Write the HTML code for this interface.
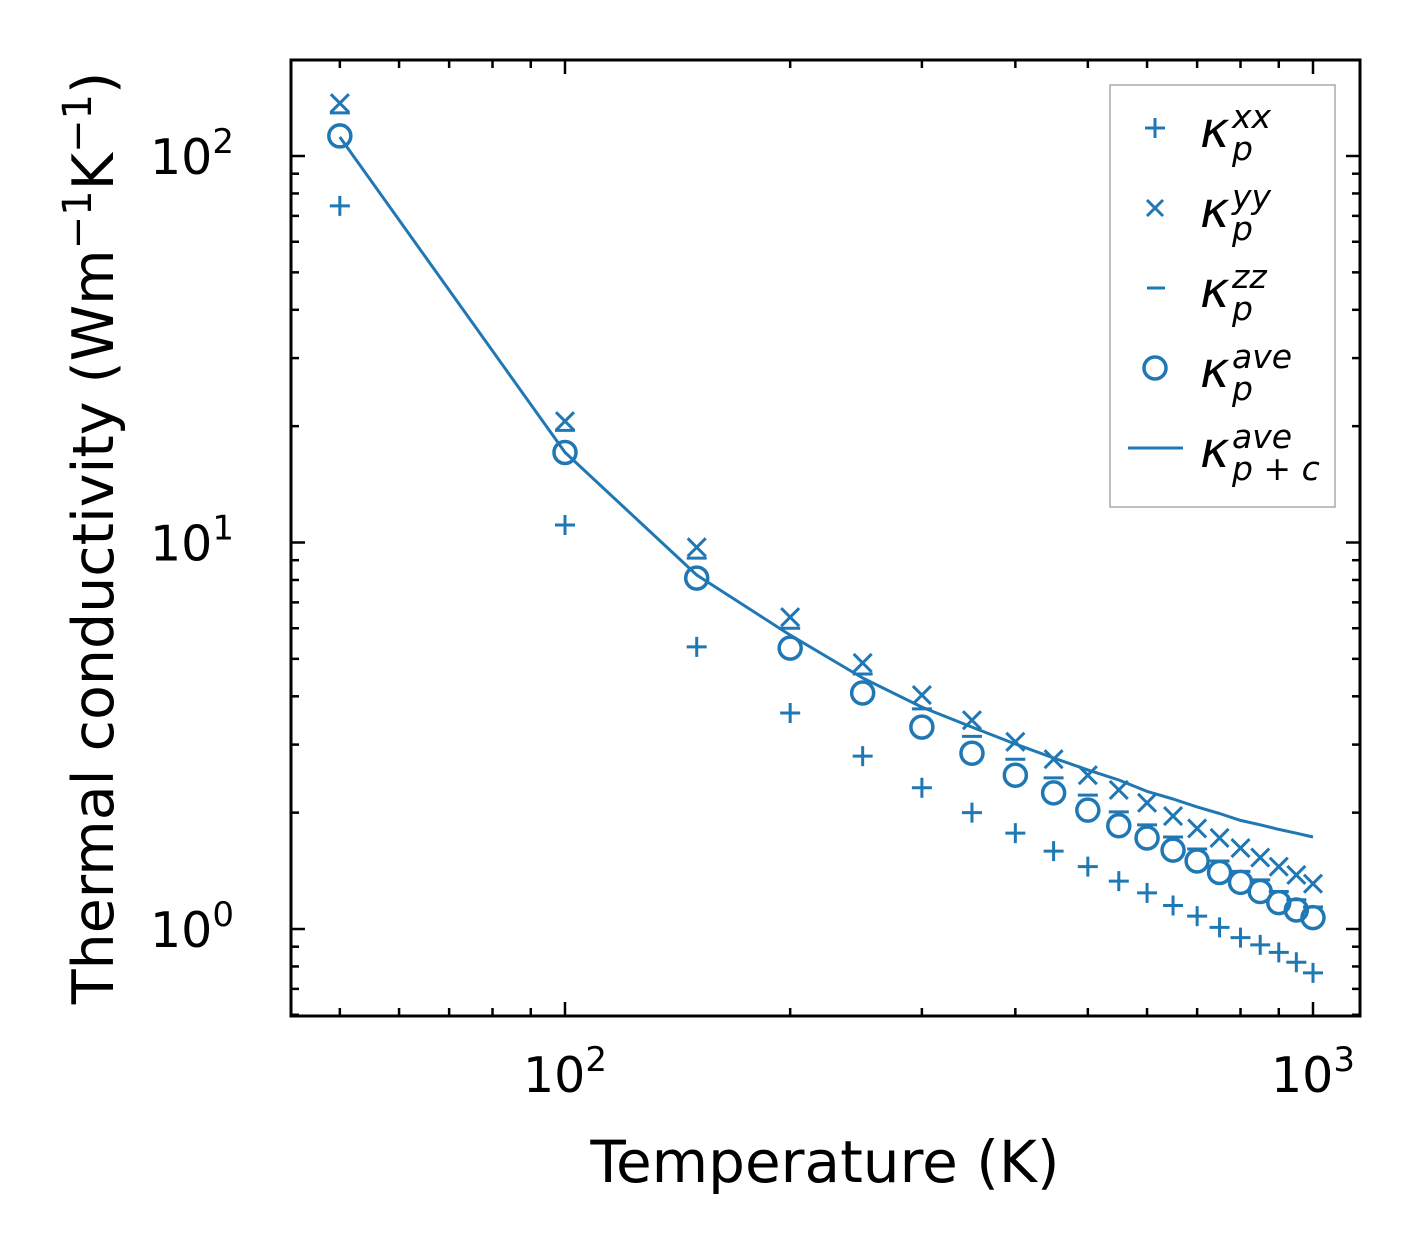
<!DOCTYPE html>
<html><head><meta charset="utf-8"><style>
html,body{margin:0;padding:0;background:#fff;}
svg{display:block;font-family:"DejaVu Sans","Liberation Sans",sans-serif;}
</style></head><body>
<svg id="chart" width="1421" height="1254" viewBox="0 0 1421 1254" xmlns="http://www.w3.org/2000/svg">
<rect x="0" y="0" width="1421" height="1254" fill="#fff"/>
<g id="marks"></g>
<g id="axes"></g>
<rect x="291" y="60" width="1069" height="956" fill="none" stroke="#000" stroke-width="3"/>
<text x="825" y="1182" font-size="58" text-anchor="middle">Temperature (K)</text>
<text transform="translate(113,538) rotate(-90)" font-size="57" text-anchor="middle">Thermal conductivity (Wm<tspan dy="-22" font-size="40">−1</tspan><tspan dy="22">K</tspan><tspan dy="-22" font-size="40">−1</tspan><tspan dy="22">)</tspan></text>
<g>
<rect x="1110" y="85" width="225" height="422" fill="#fff" stroke="#aaa" stroke-width="1.5"/>
<g>
<path d="M1145 128h20M1155 118v20" stroke="#1f77b4" stroke-width="3"/>
<text x="1200" y="147" font-size="50" font-style="italic">κ</text><text x="1232" y="128" font-size="33" font-style="italic">xx</text><text x="1232" y="160" font-size="33" font-style="italic">p</text></g>
<g>
<path d="M1147 200l16 16M1147 216l16-16" stroke="#1f77b4" stroke-width="3"/>
<text x="1200" y="227" font-size="50" font-style="italic">κ</text><text x="1232" y="208" font-size="33" font-style="italic">yy</text><text x="1232" y="240" font-size="33" font-style="italic">p</text></g>
<g>
<path d="M1147 288h18" stroke="#1f77b4" stroke-width="3"/>
<text x="1200" y="307" font-size="50" font-style="italic">κ</text><text x="1232" y="288" font-size="33" font-style="italic">zz</text><text x="1232" y="320" font-size="33" font-style="italic">p</text></g>
<g>
<circle cx="1155" cy="368" r="11" fill="none" stroke="#1f77b4" stroke-width="3.5"/>
<text x="1200" y="387" font-size="50" font-style="italic">κ</text><text x="1232" y="368" font-size="33" font-style="italic">ave</text><text x="1232" y="400" font-size="33" font-style="italic">p</text></g>
<g>
<path d="M1128 448h55" stroke="#1f77b4" stroke-width="3"/>
<text x="1200" y="467" font-size="50" font-style="italic">κ</text><text x="1232" y="448" font-size="33" font-style="italic">ave</text><text x="1232" y="480" font-size="33" font-style="italic">p + c</text></g>
</g>
</svg>
<script>
const temps=[50,100,150,200,250,300,350,400,450,500,550,600,650,700,750,800,850,900,950,1000];
const kxx=[74.3,11.1,5.37,3.62,2.80,2.32,2.00,1.77,1.59,1.45,1.33,1.24,1.15,1.08,1.01,0.95,0.91,0.87,0.82,0.77];
const kyy=[137,20.6,9.72,6.41,4.88,4.03,3.47,3.05,2.75,2.50,2.29,2.12,1.96,1.82,1.72,1.62,1.53,1.45,1.38,1.31];
const kzz=[129.3,19.5,9.11,6.00,4.57,3.71,3.15,2.75,2.46,2.22,2.01,1.86,1.73,1.61,1.50,1.41,1.34,1.25,1.19,1.14];
const kave=[112.7,17.1,8.09,5.33,4.08,3.33,2.85,2.50,2.25,2.03,1.85,1.72,1.60,1.50,1.40,1.32,1.25,1.17,1.12,1.07];
const kpc=[112,17.1,8.24,5.76,4.46,3.75,3.33,3.01,2.77,2.58,2.43,2.27,2.17,2.07,1.99,1.91,1.86,1.81,1.77,1.73];
const xMajor=[100,1000];
const xMajorLabels=["2","3"];
const yMajor=[1,10,100];
const yMajorLabels=["0","1","2"];

const NS="http://www.w3.org/2000/svg";
const X=v=>565+748*(Math.log10(v)-2);
const Y=v=>929-386.5*Math.log10(v);
const C="#1f77b4";
const marks=document.getElementById('marks'),axes=document.getElementById('axes');
function mk(tag,attrs,parent){const e=document.createElementNS(NS,tag);for(const k in attrs)e.setAttribute(k,attrs[k]);parent.appendChild(e);return e;}

let d=temps.map((t,i)=>(i?'L':'M')+X(t).toFixed(1)+' '+Y(kpc[i]).toFixed(1)).join('');
const ln=mk('path',{d:d,fill:'none',stroke:C,'stroke-width':3,'stroke-linejoin':'round'},marks);


temps.forEach((t,i)=>{
  const x=X(t);
  let y=Y(kxx[i]);
  const p=mk('path',{d:`M${x-10} ${y}h20M${x} ${y-10}v20`,stroke:C,'stroke-width':3},marks);
  
  
  y=Y(kyy[i]);
  const q=mk('path',{d:`M${x-9} ${y-9}l18 18M${x-9} ${y+9}l18 -18`,stroke:C,'stroke-width':3},marks);
  
  
  y=Y(kzz[i]);
  const z=mk('path',{d:`M${x-10} ${y}h20`,stroke:C,'stroke-width':3},marks);
  
  
  y=Y(kave[i]);
  const c=mk('circle',{cx:x,cy:y,r:11,fill:'none',stroke:C,'stroke-width':3.5},marks);
  
  
});
function tick(x1,y1,x2,y2){const t=mk('line',{x1,y1,x2,y2,stroke:'#000','stroke-width':2.5},axes);

}
const xMinor=[50,60,70,80,90,200,300,400,500,600,700,800,900];
xMinor.forEach(v=>{const x=X(v);tick(x,1016,x,1008);tick(x,60,x,68);});
xMajor.forEach((v,i)=>{const x=X(v);tick(x,1016,x,1002);tick(x,60,x,74);
 const t=mk('text',{x:x,y:1092,'font-size':49,'text-anchor':'middle'},axes);
 t.innerHTML='10<tspan dy="-21" font-size="34">'+xMajorLabels[i]+'</tspan>';
 
 });
const yMinor=[0.6,0.7,0.8,0.9,2,3,4,5,6,7,8,9,20,30,40,50,60,70,80,90];
yMinor.forEach(v=>{const y=Y(v);tick(291,y,299,y);tick(1360,y,1352,y);});
yMajor.forEach((v,i)=>{const y=Y(v);tick(291,y,305,y);tick(1360,y,1346,y);
 const t=mk('text',{x:234,y:y+18,'font-size':49,'text-anchor':'end'},axes);
 t.innerHTML='10<tspan dy="-21" font-size="34">'+yMajorLabels[i]+'</tspan>';
 
 });
</script>
</body></html>
